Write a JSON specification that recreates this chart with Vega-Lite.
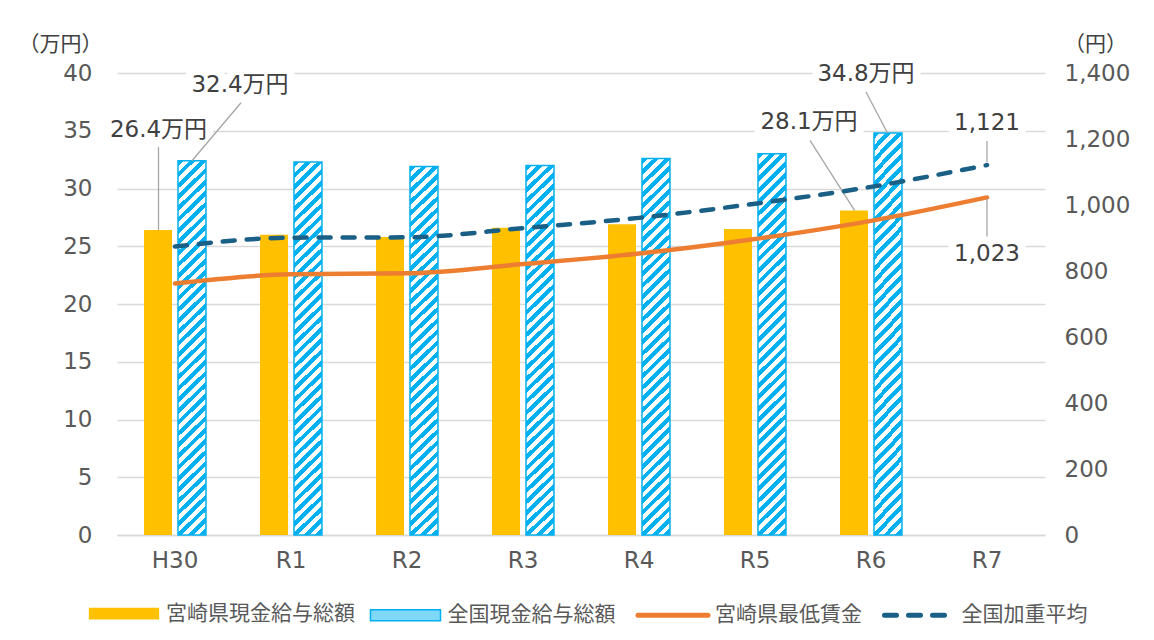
{
  "$schema": "https://vega.github.io/schema/vega-lite/v6.json",
  "width": 928,
  "height": 462,
  "autosize": {"type": "none"},
  "padding": {"left": 117, "top": 73, "right": 109, "bottom": 105},
  "background": "white",
  "config": {
    "font": "DejaVu Sans, Noto Sans CJK JP",
    "view": {"stroke": null}
  },
  "datasets": {
    "pay": [
      {"year": "H30", "series": "宮崎県現金給与総額", "value": 26.4},
      {"year": "R1", "series": "宮崎県現金給与総額", "value": 26.0},
      {"year": "R2", "series": "宮崎県現金給与総額", "value": 25.8},
      {"year": "R3", "series": "宮崎県現金給与総額", "value": 26.6},
      {"year": "R4", "series": "宮崎県現金給与総額", "value": 26.9},
      {"year": "R5", "series": "宮崎県現金給与総額", "value": 26.5},
      {"year": "R6", "series": "宮崎県現金給与総額", "value": 28.1},
      {"year": "H30", "series": "全国現金給与総額", "value": 32.4},
      {"year": "R1", "series": "全国現金給与総額", "value": 32.3},
      {"year": "R2", "series": "全国現金給与総額", "value": 31.9},
      {"year": "R3", "series": "全国現金給与総額", "value": 32.0},
      {"year": "R4", "series": "全国現金給与総額", "value": 32.6},
      {"year": "R5", "series": "全国現金給与総額", "value": 33.0},
      {"year": "R6", "series": "全国現金給与総額", "value": 34.8}
    ],
    "minwage": [
      {"year": "H30", "series": "宮崎県最低賃金", "value": 762},
      {"year": "R1", "series": "宮崎県最低賃金", "value": 790},
      {"year": "R2", "series": "宮崎県最低賃金", "value": 793},
      {"year": "R3", "series": "宮崎県最低賃金", "value": 821},
      {"year": "R4", "series": "宮崎県最低賃金", "value": 853},
      {"year": "R5", "series": "宮崎県最低賃金", "value": 897},
      {"year": "R6", "series": "宮崎県最低賃金", "value": 952},
      {"year": "R7", "series": "宮崎県最低賃金", "value": 1023},
      {"year": "H30", "series": "全国加重平均", "value": 874},
      {"year": "R1", "series": "全国加重平均", "value": 901},
      {"year": "R2", "series": "全国加重平均", "value": 902},
      {"year": "R3", "series": "全国加重平均", "value": 930},
      {"year": "R4", "series": "全国加重平均", "value": 961},
      {"year": "R5", "series": "全国加重平均", "value": 1004},
      {"year": "R6", "series": "全国加重平均", "value": 1055},
      {"year": "R7", "series": "全国加重平均", "value": 1121}
    ]
  },
  "layer": [
    {
      "data": {"name": "pay"},
      "encoding": {
        "x": {
          "field": "year", "type": "ordinal",
          "scale": {"type": "band", "domain": ["H30", "R1", "R2", "R3", "R4", "R5", "R6", "R7"], "paddingInner": 0.466, "paddingOuter": 0.233},
          "axis": {"title": null, "labelAngle": 0, "ticks": false, "domainColor": "#D9D9D9", "domainWidth": 1.3, "labelPadding": 14, "labelFontSize": 23, "labelColor": "#595959", "grid": false}
        },
        "y": {
          "field": "value", "type": "quantitative",
          "scale": {"domain": [0, 40], "nice": false},
          "axis": {"title": "（万円）", "titleAngle": 0, "titleX": -57, "titleY": -29, "titleAlign": "center", "titleBaseline": "middle", "titleFontSize": 21, "titleFontWeight": "normal", "titleColor": "#404040", "values": [0, 5, 10, 15, 20, 25, 30, 35, 40], "grid": true, "gridColor": "#D9D9D9", "gridWidth": 1.3, "domain": false, "ticks": false, "labelPadding": 25, "labelFontSize": 23, "labelColor": "#595959"}
        }
      },
      "layer": [
        {
          "transform": [{"filter": "datum.series === '宮崎県現金給与総額'"}],
          "mark": {"type": "bar"},
          "encoding": {
            "xOffset": {"field": "series", "type": "nominal", "scale": {"domain": ["宮崎県現金給与総額", "全国現金給与総額"], "paddingInner": 0.176, "paddingOuter": 0}},
            "color": {
              "field": "series", "type": "nominal",
              "scale": {"domain": ["宮崎県現金給与総額", "全国現金給与総額", "宮崎県最低賃金", "全国加重平均"], "range": ["#FFC000", "#80D8F8", "#ED7D31", "#1A5F85"]},
              "legend": {
                "title": null, "orient": "none", "legendX": -30.5, "legendY": 503, "direction": "horizontal", "columns": 4,
                "padding": 0, "symbolType": "M-1,-0.16H1V0.16H-1Z", "symbolSize": 4900,
                "labelFontSize": 21, "labelColor": "#595959", "labelOffset": 4.5, "columnPadding": 11.5, "labelLimit": 400,
                "encode": {
                  "symbols": {
                    "update": {
                      "shape": {"signal": "datum.value === '宮崎県現金給与総額' ? 'M-0.9333,-0.0933H0.9333V0.0933H-0.9333Z' : (datum.value === '全国現金給与総額' ? 'M-0.9524,-0.1497H0.9524V0.1497H-0.9524Z' : 'M-1,0H1')"},
                      "size": {"signal": "(datum.value === '全国現金給与総額' ? 5402.25 : 4900)"},
                      "strokeWidth": {"signal": "(datum.value === '全国現金給与総額' ? 1.5 : 5)"},
                      "stroke": {"signal": "datum.value === '宮崎県現金給与総額' ? '#FFC000' : (datum.value === '全国現金給与総額' ? '#00B0F0' : (datum.value === '宮崎県最低賃金' ? '#ED7D31' : '#1A5F85'))"},
                      "strokeDash": {"signal": "datum.value === '全国加重平均' ? [12, 12] : null"},
                      "strokeCap": {"value": "round"},
                      "opacity": {"value": 1}
                    }
                  }
                }
              }
            }
          }
        },
        {
          "transform": [{"filter": "datum.series === '全国現金給与総額'"}],
          "mark": {
            "type": "bar", "stroke": "#00B0F0", "strokeWidth": 1.5,
            "fill": {"gradient": "linear", "x1": 0, "y1": 0, "x2": 0.078, "y2": 1.07, "stops": [
              {"offset":0,"color":"#00B0F0"},
              {"offset":0.014,"color":"#00B0F0"},{"offset":0.014,"color":"#FFFFFF"},
              {"offset":0.028,"color":"#FFFFFF"},{"offset":0.028,"color":"#00B0F0"},
              {"offset":0.042,"color":"#00B0F0"},{"offset":0.042,"color":"#FFFFFF"},
              {"offset":0.056,"color":"#FFFFFF"},{"offset":0.056,"color":"#00B0F0"},
              {"offset":0.07,"color":"#00B0F0"},{"offset":0.07,"color":"#FFFFFF"},
              {"offset":0.084,"color":"#FFFFFF"},{"offset":0.084,"color":"#00B0F0"},
              {"offset":0.098,"color":"#00B0F0"},{"offset":0.098,"color":"#FFFFFF"},
              {"offset":0.112,"color":"#FFFFFF"},{"offset":0.112,"color":"#00B0F0"},
              {"offset":0.126,"color":"#00B0F0"},{"offset":0.126,"color":"#FFFFFF"},
              {"offset":0.14,"color":"#FFFFFF"},{"offset":0.14,"color":"#00B0F0"},
              {"offset":0.154,"color":"#00B0F0"},{"offset":0.154,"color":"#FFFFFF"},
              {"offset":0.168,"color":"#FFFFFF"},{"offset":0.168,"color":"#00B0F0"},
              {"offset":0.182,"color":"#00B0F0"},{"offset":0.182,"color":"#FFFFFF"},
              {"offset":0.196,"color":"#FFFFFF"},{"offset":0.196,"color":"#00B0F0"},
              {"offset":0.21,"color":"#00B0F0"},{"offset":0.21,"color":"#FFFFFF"},
              {"offset":0.224,"color":"#FFFFFF"},{"offset":0.224,"color":"#00B0F0"},
              {"offset":0.238,"color":"#00B0F0"},{"offset":0.238,"color":"#FFFFFF"},
              {"offset":0.252,"color":"#FFFFFF"},{"offset":0.252,"color":"#00B0F0"},
              {"offset":0.266,"color":"#00B0F0"},{"offset":0.266,"color":"#FFFFFF"},
              {"offset":0.28,"color":"#FFFFFF"},{"offset":0.28,"color":"#00B0F0"},
              {"offset":0.294,"color":"#00B0F0"},{"offset":0.294,"color":"#FFFFFF"},
              {"offset":0.308,"color":"#FFFFFF"},{"offset":0.308,"color":"#00B0F0"},
              {"offset":0.322,"color":"#00B0F0"},{"offset":0.322,"color":"#FFFFFF"},
              {"offset":0.336,"color":"#FFFFFF"},{"offset":0.336,"color":"#00B0F0"},
              {"offset":0.35,"color":"#00B0F0"},{"offset":0.35,"color":"#FFFFFF"},
              {"offset":0.364,"color":"#FFFFFF"},{"offset":0.364,"color":"#00B0F0"},
              {"offset":0.378,"color":"#00B0F0"},{"offset":0.378,"color":"#FFFFFF"},
              {"offset":0.392,"color":"#FFFFFF"},{"offset":0.392,"color":"#00B0F0"},
              {"offset":0.406,"color":"#00B0F0"},{"offset":0.406,"color":"#FFFFFF"},
              {"offset":0.42,"color":"#FFFFFF"},{"offset":0.42,"color":"#00B0F0"},
              {"offset":0.434,"color":"#00B0F0"},{"offset":0.434,"color":"#FFFFFF"},
              {"offset":0.448,"color":"#FFFFFF"},{"offset":0.448,"color":"#00B0F0"},
              {"offset":0.462,"color":"#00B0F0"},{"offset":0.462,"color":"#FFFFFF"},
              {"offset":0.476,"color":"#FFFFFF"},{"offset":0.476,"color":"#00B0F0"},
              {"offset":0.49,"color":"#00B0F0"},{"offset":0.49,"color":"#FFFFFF"},
              {"offset":0.504,"color":"#FFFFFF"},{"offset":0.504,"color":"#00B0F0"},
              {"offset":0.518,"color":"#00B0F0"},{"offset":0.518,"color":"#FFFFFF"},
              {"offset":0.532,"color":"#FFFFFF"},{"offset":0.532,"color":"#00B0F0"},
              {"offset":0.546,"color":"#00B0F0"},{"offset":0.546,"color":"#FFFFFF"},
              {"offset":0.56,"color":"#FFFFFF"},{"offset":0.56,"color":"#00B0F0"},
              {"offset":0.574,"color":"#00B0F0"},{"offset":0.574,"color":"#FFFFFF"},
              {"offset":0.588,"color":"#FFFFFF"},{"offset":0.588,"color":"#00B0F0"},
              {"offset":0.602,"color":"#00B0F0"},{"offset":0.602,"color":"#FFFFFF"},
              {"offset":0.616,"color":"#FFFFFF"},{"offset":0.616,"color":"#00B0F0"},
              {"offset":0.63,"color":"#00B0F0"},{"offset":0.63,"color":"#FFFFFF"},
              {"offset":0.644,"color":"#FFFFFF"},{"offset":0.644,"color":"#00B0F0"},
              {"offset":0.658,"color":"#00B0F0"},{"offset":0.658,"color":"#FFFFFF"},
              {"offset":0.672,"color":"#FFFFFF"},{"offset":0.672,"color":"#00B0F0"},
              {"offset":0.686,"color":"#00B0F0"},{"offset":0.686,"color":"#FFFFFF"},
              {"offset":0.7,"color":"#FFFFFF"},{"offset":0.7,"color":"#00B0F0"},
              {"offset":0.714,"color":"#00B0F0"},{"offset":0.714,"color":"#FFFFFF"},
              {"offset":0.728,"color":"#FFFFFF"},{"offset":0.728,"color":"#00B0F0"},
              {"offset":0.742,"color":"#00B0F0"},{"offset":0.742,"color":"#FFFFFF"},
              {"offset":0.756,"color":"#FFFFFF"},{"offset":0.756,"color":"#00B0F0"},
              {"offset":0.77,"color":"#00B0F0"},{"offset":0.77,"color":"#FFFFFF"},
              {"offset":0.784,"color":"#FFFFFF"},{"offset":0.784,"color":"#00B0F0"},
              {"offset":0.798,"color":"#00B0F0"},{"offset":0.798,"color":"#FFFFFF"},
              {"offset":0.812,"color":"#FFFFFF"},{"offset":0.812,"color":"#00B0F0"},
              {"offset":0.826,"color":"#00B0F0"},{"offset":0.826,"color":"#FFFFFF"},
              {"offset":0.84,"color":"#FFFFFF"},{"offset":0.84,"color":"#00B0F0"},
              {"offset":0.854,"color":"#00B0F0"},{"offset":0.854,"color":"#FFFFFF"},
              {"offset":0.868,"color":"#FFFFFF"},{"offset":0.868,"color":"#00B0F0"},
              {"offset":0.882,"color":"#00B0F0"},{"offset":0.882,"color":"#FFFFFF"},
              {"offset":0.896,"color":"#FFFFFF"},{"offset":0.896,"color":"#00B0F0"},
              {"offset":0.91,"color":"#00B0F0"},{"offset":0.91,"color":"#FFFFFF"},
              {"offset":0.924,"color":"#FFFFFF"},{"offset":0.924,"color":"#00B0F0"},
              {"offset":0.938,"color":"#00B0F0"},{"offset":0.938,"color":"#FFFFFF"},
              {"offset":0.952,"color":"#FFFFFF"},{"offset":0.952,"color":"#00B0F0"},
              {"offset":0.966,"color":"#00B0F0"},{"offset":0.966,"color":"#FFFFFF"},
              {"offset":0.98,"color":"#FFFFFF"},{"offset":0.98,"color":"#00B0F0"},
              {"offset":0.994,"color":"#00B0F0"},{"offset":0.994,"color":"#FFFFFF"},
              {"offset":1,"color":"#FFFFFF"}
            ]}
          },
          "encoding": {
            "xOffset": {"field": "series", "type": "nominal", "scale": {"domain": ["宮崎県現金給与総額", "全国現金給与総額"], "paddingInner": 0.176, "paddingOuter": 0}}
          }
        },
        {
          "transform": [
            {"filter": "datum.year === 'H30' && datum.series === '宮崎県現金給与総額'"},
            {"calculate": "format(datum.value, '.1f') + '万円'", "as": "label"}
          ],
          "layer": [
            {"mark": {"type": "text", "dx": -16.5, "dy": -100, "fontSize": 23, "fill": "white", "stroke": "white", "strokeWidth": 16, "strokeJoin": "round"}, "encoding": {"text": {"field": "label"}}},
            {"mark": {"type": "rule", "xOffset": -16.5, "yOffset": -83, "color": "#A6A6A6", "strokeWidth": 1.3}, "encoding": {"y2": {"field": "value"}}},
            {"mark": {"type": "text", "dx": -16.5, "dy": -100, "fontSize": 23, "color": "#404040"}, "encoding": {"text": {"field": "label"}}}
          ]
        },
        {
          "transform": [
            {"filter": "datum.year === 'H30' && datum.series === '全国現金給与総額'"},
            {"calculate": "format(datum.value, '.1f') + '万円'", "as": "label"}
          ],
          "layer": [
            {"mark": {"type": "text", "dx": 65, "dy": -76, "fontSize": 23, "fill": "white", "stroke": "white", "strokeWidth": 16, "strokeJoin": "round"}, "encoding": {"text": {"field": "label"}}},
            {"mark": {"type": "rule", "xOffset": 66, "yOffset": -58, "x2Offset": 17, "y2Offset": 0, "color": "#A6A6A6", "strokeWidth": 1.3}, "encoding": {"x2": {"field": "year"}, "y2": {"field": "value"}}},
            {"mark": {"type": "text", "dx": 65, "dy": -76, "fontSize": 23, "color": "#404040"}, "encoding": {"text": {"field": "label"}}}
          ]
        },
        {
          "transform": [
            {"filter": "datum.year === 'R6' && datum.series === '宮崎県現金給与総額'"},
            {"calculate": "format(datum.value, '.1f') + '万円'", "as": "label"}
          ],
          "layer": [
            {"mark": {"type": "text", "dx": -62, "dy": -88, "fontSize": 23, "fill": "white", "stroke": "white", "strokeWidth": 16, "strokeJoin": "round"}, "encoding": {"text": {"field": "label"}}},
            {"mark": {"type": "rule", "xOffset": -61, "yOffset": -70, "x2Offset": -16.5, "y2Offset": 0, "color": "#A6A6A6", "strokeWidth": 1.3}, "encoding": {"x2": {"field": "year"}, "y2": {"field": "value"}}},
            {"mark": {"type": "text", "dx": -62, "dy": -88, "fontSize": 23, "color": "#404040"}, "encoding": {"text": {"field": "label"}}}
          ]
        },
        {
          "transform": [
            {"filter": "datum.year === 'R6' && datum.series === '全国現金給与総額'"},
            {"calculate": "format(datum.value, '.1f') + '万円'", "as": "label"}
          ],
          "layer": [
            {"mark": {"type": "text", "dx": -5, "dy": -59, "fontSize": 23, "fill": "white", "stroke": "white", "strokeWidth": 16, "strokeJoin": "round"}, "encoding": {"text": {"field": "label"}}},
            {"mark": {"type": "rule", "xOffset": -5, "yOffset": -41, "x2Offset": 16.5, "y2Offset": 0, "color": "#A6A6A6", "strokeWidth": 1.3}, "encoding": {"x2": {"field": "year"}, "y2": {"field": "value"}}},
            {"mark": {"type": "text", "dx": -5, "dy": -59, "fontSize": 23, "color": "#404040"}, "encoding": {"text": {"field": "label"}}}
          ]
        }
      ]
    },
    {
      "data": {"name": "minwage"},
      "encoding": {
        "x": {
          "field": "year", "type": "ordinal",
          "scale": {"type": "band", "domain": ["H30", "R1", "R2", "R3", "R4", "R5", "R6", "R7"], "paddingInner": 0.466, "paddingOuter": 0.233},
          "axis": {"title": null, "labelAngle": 0, "ticks": false, "domainColor": "#D9D9D9", "domainWidth": 1.3, "labelPadding": 14, "labelFontSize": 23, "labelColor": "#595959", "grid": false}
        },
        "y": {
          "field": "value", "type": "quantitative",
          "scale": {"domain": [0, 1400], "nice": false},
          "axis": {"orient": "right", "title": "（円）", "titleAngle": 0, "titleX": 50, "titleY": -29, "titleAlign": "center", "titleBaseline": "middle", "titleFontSize": 21, "titleFontWeight": "normal", "titleColor": "#404040", "values": [0, 200, 400, 600, 800, 1000, 1200, 1400], "format": ",d", "grid": false, "domain": false, "ticks": false, "labelPadding": 19, "labelFontSize": 23, "labelColor": "#595959"}
        }
      },
      "layer": [
        {
          "transform": [{"filter": "datum.series === '宮崎県最低賃金'"}],
          "mark": {"type": "line", "color": "#ED7D31", "strokeWidth": 4.5, "interpolate": "monotone", "strokeCap": "round"},
          "encoding": {}
        },
        {
          "transform": [{"filter": "datum.series === '全国加重平均'"}],
          "mark": {"type": "line", "color": "#1A5F85", "strokeWidth": 4.5, "interpolate": "monotone", "strokeCap": "round", "strokeDash": [12, 12]},
          "encoding": {}
        },
        {
          "transform": [
            {"filter": "datum.year === 'R7' && datum.series === '全国加重平均'"},
            {"calculate": "format(datum.value, ',')", "as": "label"}
          ],
          "layer": [
            {"mark": {"type": "text", "dy": -42, "fontSize": 23, "fill": "white", "stroke": "white", "strokeWidth": 16, "strokeJoin": "round"}, "encoding": {"text": {"field": "label"}}},
            {"mark": {"type": "rule", "yOffset": -24, "y2Offset": -3, "color": "#A6A6A6", "strokeWidth": 1.3}, "encoding": {"y2": {"field": "value"}}},
            {"mark": {"type": "text", "dy": -42, "fontSize": 23, "color": "#404040"}, "encoding": {"text": {"field": "label"}}}
          ]
        },
        {
          "transform": [
            {"filter": "datum.year === 'R7' && datum.series === '宮崎県最低賃金'"},
            {"calculate": "format(datum.value, ',')", "as": "label"}
          ],
          "layer": [
            {"mark": {"type": "text", "dy": 57, "fontSize": 23, "fill": "white", "stroke": "white", "strokeWidth": 16, "strokeJoin": "round"}, "encoding": {"text": {"field": "label"}}},
            {"mark": {"type": "rule", "yOffset": 1, "y2Offset": 39, "color": "#A6A6A6", "strokeWidth": 1.3}, "encoding": {"y2": {"field": "value"}}},
            {"mark": {"type": "text", "dy": 57, "fontSize": 23, "color": "#404040"}, "encoding": {"text": {"field": "label"}}}
          ]
        }
      ]
    }
  ],
  "resolve": {"scale": {"y": "independent"}}
}
